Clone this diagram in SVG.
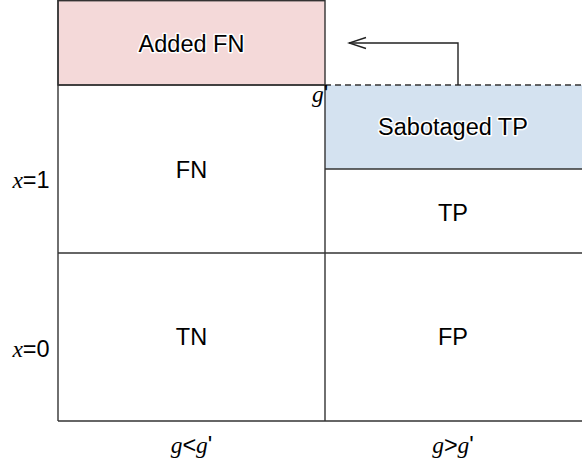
<svg xmlns="http://www.w3.org/2000/svg" width="582" height="470" viewBox="0 0 582 470">
  <style>
    .cell { stroke: #333; stroke-width: 1.4; }
    .lbl { font-family: "Liberation Sans", Arial, Helvetica, sans-serif; font-size: 23.5px; fill: #000; text-anchor: middle; dominant-baseline: central; stroke: #fff; stroke-width: 3px; stroke-linejoin: round; paint-order: stroke; }
    .math { font-family: "Liberation Sans", Arial, Helvetica, sans-serif; font-size: 23.5px; fill: #000; text-anchor: middle; dominant-baseline: central; }
    .it { font-family: "Liberation Serif", "Times New Roman", serif; font-style: italic; }
  </style>
  <defs>
    <marker id="open-arrow" markerWidth="20" markerHeight="14" refX="18" refY="7" orient="auto" markerUnits="userSpaceOnUse">
      <path d="M1,1.5 L18,7 L1,12.5" fill="none" stroke="#222" stroke-width="1.4"/>
    </marker>
  </defs>

  <rect width="582" height="470" fill="#fff"/>

  <g id="added-fn">
    <rect class="cell" x="58" y="0.7" width="267" height="84.3" fill="#f4d9d9"/>
    <text class="lbl" x="191.5" y="44">Added FN</text>
  </g>

  <g id="sabotaged-tp">
    <rect x="325" y="85" width="257" height="84" fill="#d4e2f0"/>
    <line class="cell" x1="325" y1="169" x2="582" y2="169"/>
    <text class="lbl" x="453" y="127">Sabotaged TP</text>
  </g>

  <g id="grid">
    <line class="cell" x1="58" y1="85" x2="325" y2="85"/>
    <line class="cell" x1="58" y1="0" x2="58" y2="421"/>
    <line class="cell" x1="325" y1="85" x2="325" y2="421"/>
    <line class="cell" x1="58" y1="253" x2="582" y2="253"/>
    <line class="cell" x1="58" y1="421" x2="582" y2="421"/>
  </g>

  <g id="fn"><text class="lbl" x="191.5" y="170">FN</text></g>
  <g id="tp"><text class="lbl" x="453" y="213">TP</text></g>
  <g id="tn"><text class="lbl" x="191.5" y="337">TN</text></g>
  <g id="fp"><text class="lbl" x="453" y="337">FP</text></g>

  <g id="threshold">
    <line x1="325" y1="85" x2="582" y2="85" stroke="#333" stroke-width="1.4" stroke-dasharray="6,4"/>
    <text class="math" x="320" y="94"><tspan class="it">g</tspan>'</text>
  </g>

  <g id="connectors">
    <polyline points="458,85 458,43 349,43" fill="none" stroke="#222" stroke-width="1.4" marker-end="url(#open-arrow)"/>
  </g>

  <g id="axis-labels">
    <text class="math" x="31" y="180"><tspan class="it">x</tspan>=1</text>
    <text class="math" x="31" y="349"><tspan class="it">x</tspan>=0</text>
    <text class="math" x="191.5" y="445"><tspan class="it">g</tspan>&lt;<tspan class="it">g</tspan>'</text>
    <text class="math" x="453" y="445"><tspan class="it">g</tspan>&gt;<tspan class="it">g</tspan>'</text>
  </g>
</svg>
